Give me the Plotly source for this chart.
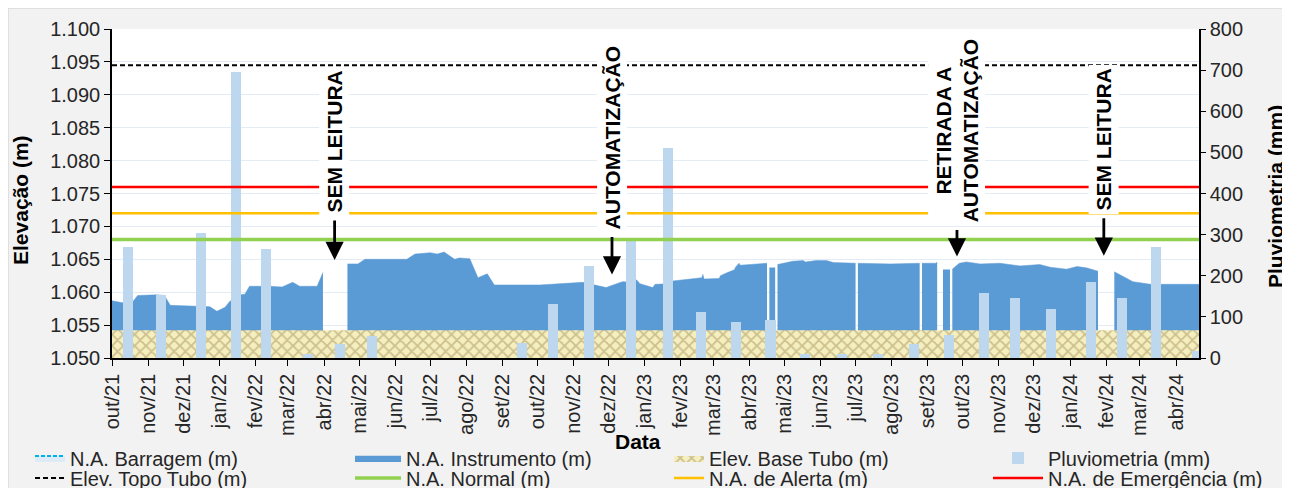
import pandas as pd
import plotly.graph_objects as go

# N.A. Instrumento (m) - leituras (None = sem leitura)
datas_instrumento = [
    '2021-10-01', '2021-10-10', '2021-10-19', '2021-10-23', '2021-11-08', '2021-11-15',
    '2021-11-20', '2021-12-01', '2021-12-18', '2021-12-24', '2021-12-30', '2022-01-06',
    '2022-01-10', '2022-01-19', '2022-01-23', '2022-01-27', '2022-02-13', '2022-02-24',
    '2022-03-05', '2022-03-11', '2022-03-26', '2022-03-31', '2022-04-10', '2022-04-21',
    '2022-04-30', '2022-05-06', '2022-06-11', '2022-06-18', '2022-07-01', '2022-07-07',
    '2022-07-13', '2022-07-22', '2022-07-26', '2022-08-04', '2022-08-11', '2022-08-19',
    '2022-08-25', '2022-09-16', '2022-10-03', '2022-11-09', '2022-11-19', '2022-11-29',
    '2022-12-05', '2022-12-13', '2022-12-23', '2022-12-25', '2022-12-28', '2023-01-08',
    '2023-01-10', '2023-01-24', '2023-01-25', '2023-02-06', '2023-02-19', '2023-02-20',
    '2023-02-21', '2023-03-06', '2023-03-07', '2023-03-12', '2023-03-19', '2023-03-20',
    '2023-03-23', '2023-03-24', '2023-04-07', '2023-04-16', '2023-04-17', '2023-04-18',
    '2023-04-23', '2023-04-24', '2023-04-25', '2023-05-08', '2023-05-17', '2023-05-19',
    '2023-05-28', '2023-06-06', '2023-06-12', '2023-07-01', '2023-07-02', '2023-07-03',
    '2023-07-31', '2023-08-25', '2023-08-26', '2023-08-27', '2023-09-08', '2023-09-09',
    '2023-09-12', '2023-09-14', '2023-09-20', '2023-09-21', '2023-09-22', '2023-09-28',
    '2023-10-04', '2023-10-16', '2023-11-02', '2023-11-19', '2023-12-06', '2023-12-15',
    '2023-12-29', '2024-01-07', '2024-01-15', '2024-01-25', '2024-02-01', '2024-02-08',
    '2024-02-24', '2024-03-10', '2024-04-21',
]
na_instrumento = [
    1.0587, 1.0584, 1.0586, 1.0595, 1.0596, 1.0595,
    1.0580, 1.0579, 1.0578, 1.0578, 1.0571, 1.0577,
    1.0586, 1.0596, 1.0597, 1.0609, 1.0609, 1.0608,
    1.0615, 1.0609, 1.0609, 1.0630, None, 1.0643,
    1.0643, 1.0650, 1.0650, 1.0658, 1.0660, 1.0658,
    1.0661, 1.0650, 1.0652, 1.0651, 1.0622, 1.0628,
    1.0611, 1.0611, 1.0611, 1.0615, 1.0611, 1.0607,
    1.0611, 1.0616, 1.0615, 1.0619, 1.0613, 1.0607,
    1.0612, 1.0613, 1.0617, 1.0619, 1.0622, 1.0627,
    1.0620, 1.0621, 1.0625, 1.0629, 1.0634, 1.0638,
    1.0644, 1.0641, 1.0643, 1.0644, None, 1.0637,
    1.0637, None, 1.0642, 1.0647, 1.0648, 1.0646,
    1.0648, 1.0648, 1.0645, 1.0644, None, 1.0644,
    1.0643, 1.0644, None, 1.0644, 1.0644, 1.0646,
    None, 1.0634, 1.0634, None, 1.0635, 1.0644,
    1.0646, 1.0643, 1.0644, 1.0640, 1.0642, 1.0638,
    1.0635, 1.0639, 1.0637, 1.0632, None, 1.0631,
    1.0616, 1.0612, 1.0612,
]

# Pluviometria mensal (mm)
datas_pluv = [
    '2021-10-15', '2021-11-12', '2021-12-16', '2022-01-15', '2022-02-10', '2022-03-18',
    '2022-04-15', '2022-05-12', '2022-06-15', '2022-07-15', '2022-08-15', '2022-09-18',
    '2022-10-14', '2022-11-14', '2022-12-20', '2023-01-21', '2023-02-18', '2023-03-20',
    '2023-04-19', '2023-05-19', '2023-06-19', '2023-07-20', '2023-08-20', '2023-09-19',
    '2023-10-19', '2023-11-15', '2023-12-16', '2024-01-19', '2024-02-15', '2024-03-15',
    '2024-04-19',
]
pluviometria = [
    270, 154, 305, 696, 266, 10,
    35, 54, 0, 0, 0, 36,
    131, 224, 286, 511, 113, 88,
    93, 10, 10, 10, 35, 57,
    159, 147, 120, 186, 147, 271,
    16,
]

# Cotas de referência (m)
datas_extremos = ['2021-10-01', '2024-04-21']
na_barragem = [1.0500, 1.0500]
elev_base_tubo = [1.0542, 1.0542]
elev_topo_tubo = [1.0945, 1.0945]
na_normal = [1.068, 1.068]
na_alerta = [1.072, 1.072]
na_emergencia = [1.076, 1.076]

# Eixo X
rotulos_meses = [
    'out/21', 'nov/21', 'dez/21', 'jan/22', 'fev/22', 'mar/22', 'abr/22', 'mai/22',
    'jun/22', 'jul/22', 'ago/22', 'set/22', 'out/22', 'nov/22', 'dez/22', 'jan/23',
    'fev/23', 'mar/23', 'abr/23', 'mai/23', 'jun/23', 'jul/23', 'ago/23', 'set/23',
    'out/23', 'nov/23', 'dez/23', 'jan/24', 'fev/24', 'mar/24', 'abr/24',
]
datas_meses = list(pd.date_range('2021-10-01', periods=len(rotulos_meses), freq='MS'))

# Eventos (data, cota da seta, texto, deslocamento do texto em px)
eventos = [
    ('2022-04-10', 1.0649, '<b>SEM LEITURA</b>', -118),
    ('2022-12-04', 1.0627, '<b>AUTOMATIZAÇÃO</b>', -137),
    ('2023-09-26', 1.06544, '<b>RETIRADA A<br>AUTOMATIZAÇÃO</b>', -126),
    ('2024-01-30', 1.06555, '<b>SEM LEITURA</b>', -116),
]

FONTE = 'Liberation Sans, Arial, sans-serif'
OFF = 8  # margem da página
W, H = 1282, 480
L, R, T, B = 104, 91, 21, 130
PW, PH = W - L - R, H - T - B


def px_x(wx):
    return (wx - OFF - L) / PW


def px_y(wy):
    return (H - B - (wy - OFF)) / PH


fig = go.Figure()

fig.add_trace(go.Scatter(
    x=datas_extremos, y=na_barragem, name='N.A. Barragem (m)', mode='lines',
    line=dict(color='#00b0f0', width=2, dash='4px,2px'), fill='tozeroy',
    fillcolor='#ddebf7', legend='legend'))

# N.A. Instrumento: um trecho por intervalo sem leitura
trechos = []
xs, ys = [], []
for d, v in zip(datas_instrumento, na_instrumento):
    if v is None:
        if xs:
            trechos.append((xs, ys))
        xs, ys = [], []
    else:
        xs.append(d)
        ys.append(v)
if xs:
    trechos.append((xs, ys))

for k, (xs, ys) in enumerate(trechos):
    fig.add_trace(go.Scatter(
        x=xs, y=ys, name='N.A. Instrumento (m)', mode='lines',
        line=dict(color='#5b9bd5', width=0.5), fill='tozeroy', fillcolor='#5b9bd5',
        legendgroup='inst', showlegend=(k == 0), legend='legend2'))

fig.add_trace(go.Scatter(
    x=datas_extremos, y=elev_base_tubo, name='Elev. Base Tubo (m)', mode='lines',
    line=dict(color='#f2ebc0', width=0), fill='tozeroy',
    fillpattern=dict(shape='x', bgcolor='#f5eebf', fgcolor='#a3925a', size=8, solidity=0.4),
    legend='legend3'))

fig.add_trace(go.Bar(
    x=datas_pluv, y=pluviometria, name='Pluviometria (mm)', yaxis='y2',
    marker=dict(color='#bdd7ee', line=dict(width=0)), width=8.6 * 86400000,
    legend='legend4'))

linhas = [
    (elev_topo_tubo, 'Elev. Topo Tubo (m)', dict(color='black', width=2, dash='5px,3px'), 'legend5'),
    (na_normal, 'N.A. Normal (m)', dict(color='#92d050', width=3.5), 'legend6'),
    (na_alerta, 'N.A. de Alerta (m)', dict(color='#ffc000', width=2.5), 'legend7'),
    (na_emergencia, 'N.A. de Emergência (m)', dict(color='#ff0000', width=2.5), 'legend8'),
]
for valores, nome, estilo, leg in linhas:
    fig.add_trace(go.Scatter(x=datas_extremos, y=valores, name=nome, mode='lines',
                             line=estilo, yaxis='y3', legend=leg))

# legendas posicionadas em 2 linhas x 4 colunas
colunas_px = [30, 350, 669, 988]
larguras = [30, 46, 30, 50]
linhas_px = [458, 478]
legendas = {}
n = 0
for i, lin in enumerate(linhas_px):
    for j, col in enumerate(colunas_px):
        n += 1
        chave = 'legend' if n == 1 else 'legend%d' % n
        legendas[chave] = dict(
            x=px_x(col), y=px_y(lin), xanchor='left', yanchor='middle',
            bgcolor='rgba(0,0,0,0)', borderwidth=0, itemwidth=larguras[j],
            font=dict(family=FONTE, size=20, color='#262626'), itemclick=False)

anotacoes = []
for data, valor, texto, ay in eventos:
    anotacoes.append(dict(
        x=data, y=valor, xref='x', yref='y', text=texto, textangle=-90,
        showarrow=True, ax=0, ay=ay, arrowhead=2, arrowsize=1.3, arrowwidth=2.8,
        arrowcolor='black', bgcolor='white', borderpad=3, startstandoff=4,
        font=dict(family=FONTE, size=21, color='black')))

titulo = dict(family=FONTE, size=21, color='black')
anotacoes += [
    dict(text='<b>Elevação (m)</b>', x=px_x(20), y=px_y(200), xref='paper', yref='paper',
         xanchor='center', yanchor='middle', textangle=-90, showarrow=False, font=titulo),
    dict(text='<b>Pluviometria (mm)</b>', x=px_x(1275), y=px_y(197), xref='paper', yref='paper',
         xanchor='center', yanchor='middle', textangle=-90, showarrow=False, font=titulo),
    dict(text='<b>Data</b>', x=px_x(638), y=px_y(441), xref='paper', yref='paper',
         xanchor='center', yanchor='middle', showarrow=False, font=titulo),
]

eixo_fonte = dict(family=FONTE, size=20, color='#262626')
fig.update_layout(
    width=W, height=H,
    margin=dict(l=L, r=R, t=T, b=B, autoexpand=False),
    paper_bgcolor='#f2f2f2', plot_bgcolor='white',
    font=dict(family=FONTE, size=20, color='#262626'),
    showlegend=True,
    bargap=0,
    xaxis=dict(
        type='date', range=['2021-10-01', '2024-04-20 16:00'],
        tickvals=datas_meses, ticktext=rotulos_meses, tickangle=-90,
        showline=True, linecolor='black', linewidth=1.5,
        ticks='outside', ticklen=6, tickcolor='black', showgrid=False, zeroline=False,
        tickfont=eixo_fonte),
    yaxis=dict(
        range=[1.050, 1.100], dtick=0.005, tickformat='.3f',
        showline=True, linecolor='black', linewidth=1.5,
        ticks='outside', ticklen=6, tickcolor='black',
        showgrid=True, gridcolor='#e3ebf5', gridwidth=1, zeroline=False,
        tickfont=eixo_fonte),
    yaxis2=dict(
        range=[0, 800], dtick=100, overlaying='y', side='right',
        showline=True, linecolor='black', linewidth=1.5,
        ticks='outside', ticklen=5, tickcolor='black', showgrid=False, zeroline=False,
        tickfont=eixo_fonte),
    yaxis3=dict(range=[1.050, 1.100], overlaying='y', visible=False),
    annotations=anotacoes,
    shapes=[
        dict(type='rect', xref='paper', yref='paper', x0=px_x(8), x1=px_x(1400),
             y0=px_y(600), y1=px_y(8), fillcolor='rgba(0,0,0,0)',
             line=dict(color='#d9d9d9', width=1.5), layer='below'),
    ],
    **legendas,
)

fig.write_html("out.html")
